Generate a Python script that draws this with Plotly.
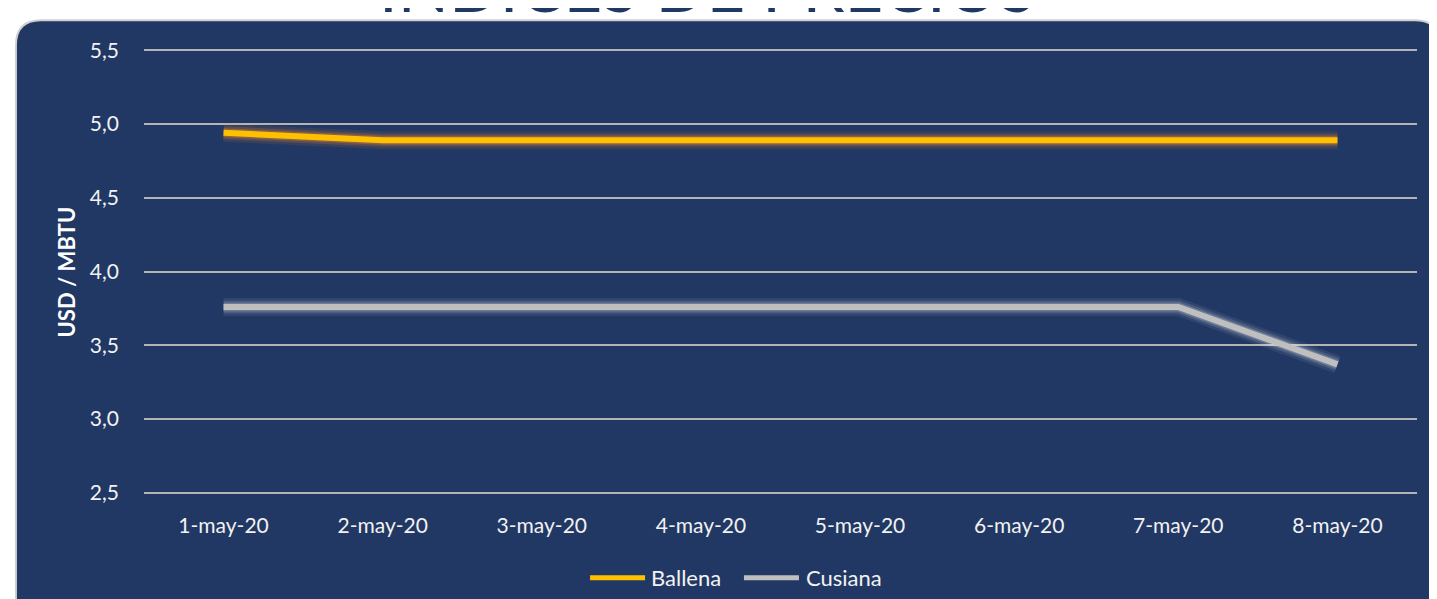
import plotly.graph_objects as go

# Data
fechas = ["1-may-20", "2-may-20", "3-may-20", "4-may-20",
          "5-may-20", "6-may-20", "7-may-20", "8-may-20"]
ballena = [4.94, 4.89, 4.89, 4.89, 4.89, 4.89, 4.89, 4.89]
cusiana = [3.76, 3.76, 3.76, 3.76, 3.76, 3.76, 3.76, 3.37]

PANEL = "#213864"
FONT = "Lato"
AMARILLO = "#ffc000"
GRIS = "#bfbfbf"

fig = go.Figure()

# soft glow under each line (three widening, fading layers)
glows = [
    (18, "rgba(255,140,40,0.10)", "rgba(255,255,255,0.07)"),
    (13, "rgba(255,140,40,0.18)", "rgba(255,255,255,0.12)"),
    (9, "rgba(255,150,40,0.30)", "rgba(255,255,255,0.20)"),
]
for ancho, c_b, c_c in glows:
    for serie, color in [(ballena, c_b), (cusiana, c_c)]:
        fig.add_trace(go.Scatter(x=fechas, y=serie, mode="lines", showlegend=False,
                                 hoverinfo="skip", line=dict(color=color, width=ancho)))

fig.add_trace(go.Scatter(x=fechas, y=ballena, mode="lines", name="Ballena",
                         showlegend=False, line=dict(color=AMARILLO, width=6)))
fig.add_trace(go.Scatter(x=fechas, y=cusiana, mode="lines", name="Cusiana",
                         showlegend=False, line=dict(color=GRIS, width=6)))

# rounded dark panel behind the chart
x0, x1, y0, y1 = -0.1006, 1.018, -0.35, 1.0621
rx, ry = 0.0196, 0.056
panel_path = (f"M{x0},{y0} L{x0},{y1 - ry} Q{x0},{y1} {x0 + rx},{y1} "
              f"L{x1 - rx},{y1} Q{x1},{y1} {x1},{y1 - ry} L{x1},{y0} Z")
fig.add_shape(type="path", path=panel_path, xref="paper", yref="paper",
              fillcolor=PANEL, line=dict(color="#d0d0d0", width=2), layer="below")

# title, mostly cut off at the top like in the source image
fig.add_annotation(text="ÍNDICES DE PRECIOS", xref="paper", yref="paper",
                   x=0.4423, y=1.138, xanchor="center", yanchor="middle",
                   showarrow=False, font=dict(family=FONT, size=67, color="#1f3864"))

fig.add_annotation(text="<b>USD / MBTU</b>", xref="paper", yref="paper",
                   x=-0.0605, y=0.5, xanchor="center", yanchor="middle",
                   textangle=-90, showarrow=False,
                   font=dict(family=FONT, size=22, color="white"))

# legend drawn by hand so the line samples are as long as in the original
leyenda = [("Ballena", AMARILLO, 0.3504, 0.3936, 0.3967),
           ("Cusiana", GRIS, 0.4713, 0.5145, 0.5185)]
for nombre, color, lx0, lx1, tx in leyenda:
    fig.add_shape(type="line", xref="paper", yref="paper", x0=lx0, x1=lx1,
                  y0=-0.185, y1=-0.185, line=dict(color=color, width=5))
    fig.add_annotation(text=nombre, xref="paper", yref="paper", x=tx, y=-0.185,
                       xanchor="left", yanchor="middle", showarrow=False,
                       font=dict(family=FONT, size=22, color="#f2f2f2"))

fig.update_layout(
    width=1437, height=599,
    margin=dict(l=136, r=28, t=40, b=112),
    paper_bgcolor="white",
    plot_bgcolor="rgba(0,0,0,0)",
    separators=",.",
    font=dict(family=FONT, size=21, color="#f2f2f2"),
    showlegend=False,
)
fig.update_xaxes(type="category", range=[-0.5, 7.5], showgrid=False, zeroline=False,
                 showline=False, ticks="", ticklabelstandoff=16, automargin=False,
                 tickfont=dict(size=21, color="#f2f2f2"))
fig.update_yaxes(range=[2.485, 5.515], dtick=0.5, tick0=2.5, tickformat=".1f",
                 showgrid=True, gridcolor="#b4b4b4", gridwidth=1.5, zeroline=False,
                 showline=False, ticks="", ticklabelstandoff=24, automargin=False,
                 tickfont=dict(size=21, color="#f2f2f2"))

fig.write_html("out.html")
